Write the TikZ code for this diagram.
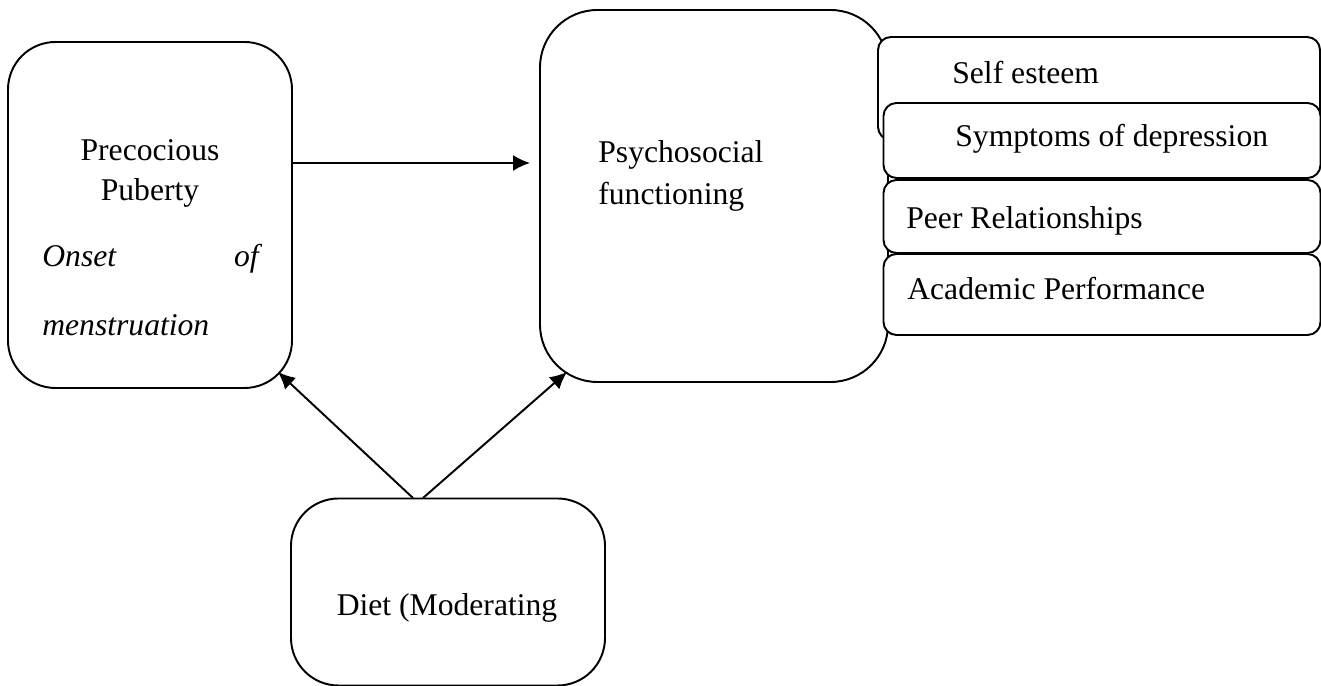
\documentclass[tikz,border=0pt]{standalone}
\usepackage{fontspec}
\setmainfont{Liberation Serif}
\usetikzlibrary{arrows.meta}

\tikzset{
  bigbox/.style={draw,line width=1.1pt,rounded corners=#1,inner sep=0pt},
  listbox/.style={draw,fill=white,line width=1.1pt,rounded corners=0.26cm,
    minimum width=8.74cm,inner sep=0pt},
  txt/.style={font=\fontsize{18}{22}\selectfont,inner sep=0pt},
  link/.style={line width=1.1pt,-{Latex[length=0.34cm,width=0.32cm]}}
}

\begin{document}
\begin{tikzpicture}
  \useasboundingbox (0,0) rectangle (26.42,13.72);
  % main boxes
  \node[bigbox=0.95cm,minimum width=5.68cm,minimum height=6.92cm] (pp) at (3.0,9.42) {};
  \node[bigbox=1.15cm,minimum width=6.96cm,minimum height=7.44cm] (ps) at (14.28,9.8) {};
  \node[bigbox=0.95cm,minimum width=6.28cm,minimum height=3.74cm] (diet) at (8.96,1.88) {};
  % outcome boxes
  \node[listbox,minimum width=8.84cm,minimum height=2.06cm] (se) at (21.98,11.95) {};
  \node[listbox,minimum height=1.5cm] (sd) at (22.04,10.91) {};
  \node[listbox,minimum height=1.46cm] (pr) at (22.04,9.39) {};
  \node[listbox,minimum height=1.62cm] (ap) at (22.04,7.83) {};
  % labels
  \node[txt] (t1) at (3.0,10.72) {Precocious};
  \node[txt] (t2) at (3.0,9.86) {Puberty};
  \node[txt,anchor=base west] (t3) at (0.84,8.38) {\itshape Onset};
  \node[txt,anchor=base east] (t4) at (5.18,8.38) {\itshape of};
  \node[txt,anchor=west] (t5) at (0.84,7.22) {\itshape menstruation};
  \node[txt,anchor=west] (t6) at (11.96,10.62) {Psychosocial};
  \node[txt,anchor=west] (t7) at (11.96,9.78) {functioning};
  \node[txt] (t8) at (8.94,1.56) {Diet (Moderating};
  \node[txt,anchor=west] (t9) at (19.04,12.26) {Self esteem};
  \node[txt,anchor=west] (t10) at (19.1,10.94) {Symptoms of depression};
  \node[txt,anchor=west] (t11) at (18.12,9.3) {Peer Relationships};
  \node[txt,anchor=west] (t12) at (18.14,7.94) {Academic Performance};
  % arrows
  \coordinate (a1) at (8.26,3.76);
  \coordinate (a2) at (8.46,3.76);
  \coordinate (h1) at (0,10.46);
  \draw[link,shorten >=0.18cm] (pp.east |- h1) -- (ps.west |- h1);
  \draw[link] (a1) -- (5.56,6.28);
  \draw[link] (a2) -- (11.34,6.28);
\end{tikzpicture}
\end{document}
